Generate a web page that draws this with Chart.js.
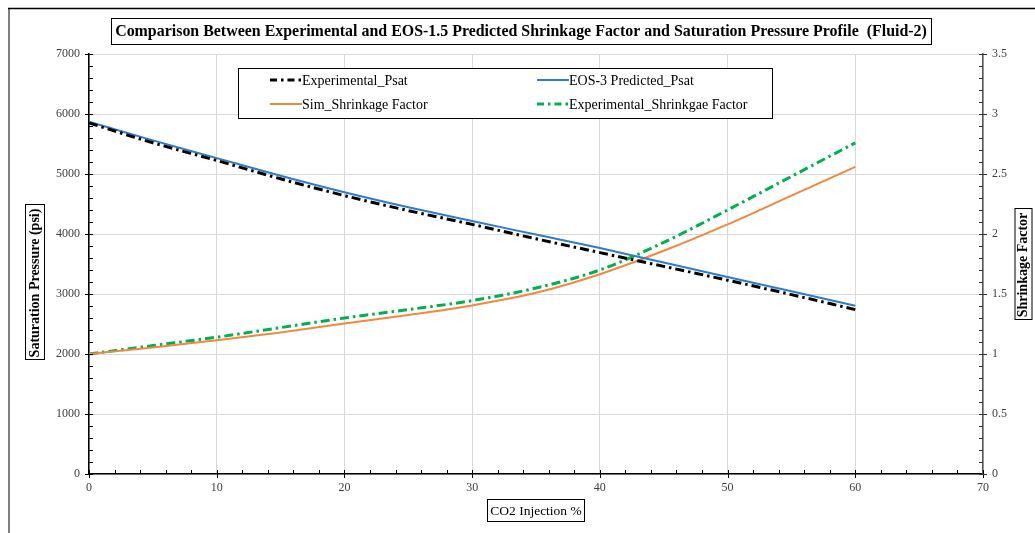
<!DOCTYPE html>
<html><head><meta charset="utf-8">
<script src="https://cdn.jsdelivr.net/npm/chart.js@4"></script>
<style>html,body{margin:0;padding:0;background:#fff;overflow:hidden}#wrap{width:1035px;height:533px;position:relative}</style>
</head><body><div id="wrap"><canvas id="c" width="1035" height="533"></canvas></div>
<script>
const co2Injection = [0, 5, 10, 15, 20, 25, 30, 35, 40, 45, 50, 55, 60];
const experimentalPsat = [5850, 5520, 5225, 4920, 4640, 4390, 4160, 3920, 3690, 3460, 3230, 2990, 2740];
const eosPredictedPsat = [5870, 5560, 5265, 4970, 4695, 4445, 4215, 3990, 3765, 3525, 3285, 3045, 2805];
const simShrinkage = [1.00, 1.055, 1.115, 1.18, 1.255, 1.325, 1.405, 1.51, 1.665, 1.86, 2.08, 2.32, 2.56];
const expShrinkage = [1.00, 1.07, 1.14, 1.22, 1.30, 1.37, 1.445, 1.55, 1.70, 1.93, 2.20, 2.48, 2.76];
const xTickValues = [0, 10, 20, 30, 40, 50, 60, 70];
const psatTickValues = [0, 1000, 2000, 3000, 4000, 5000, 6000, 7000];
const sfTickValues = [0, 0.5, 1, 1.5, 2, 2.5, 3, 3.5];
const seriesNames = ['Experimental_Psat', 'EOS-3 Predicted_Psat', 'Sim_Shrinkage Factor', 'Experimental_Shrinkgae Factor'];
const chartTitle = 'Comparison Between Experimental and EOS-1.5 Predicted Shrinkage Factor and Saturation Pressure Profile  (Fluid-2)';
const xTitle = 'CO2 Injection %';
const yLeftTitle = 'Saturation Pressure (psi)';
const yRightTitle = 'Shrinkage Factor';

const COLORS = { black: '#000000', blue: '#2E7DC8', orange: '#F0883E', green: '#00B050' };
const SERIF = "'Liberation Serif', 'DejaVu Serif', serif";
const pts = (ys) => co2Injection.map((x, i) => ({ x: x, y: ys[i] }));
const DASHDOT = [9, 4, 2.5, 4];

const datasets = [
  { label: seriesNames[0], data: pts(experimentalPsat), yAxisID: 'y', borderColor: COLORS.black, borderWidth: 3, borderDash: DASHDOT, cubicInterpolationMode: 'monotone', pointRadius: 0, fill: false },
  { label: seriesNames[1], data: pts(eosPredictedPsat), yAxisID: 'y', borderColor: COLORS.blue, borderWidth: 2, cubicInterpolationMode: 'monotone', pointRadius: 0, fill: false },
  { label: seriesNames[2], data: pts(simShrinkage), yAxisID: 'y2', borderColor: COLORS.orange, borderWidth: 2, cubicInterpolationMode: 'monotone', pointRadius: 0, fill: false },
  { label: seriesNames[3], data: pts(expShrinkage), yAxisID: 'y2', borderColor: COLORS.green, borderWidth: 3, borderDash: DASHDOT, cubicInterpolationMode: 'monotone', pointRadius: 0, fill: false }
];

function boxText(ctx, text, cx, cy, font, rotate, padX, padY) {
  ctx.save();
  ctx.translate(cx, cy);
  if (rotate) ctx.rotate(-Math.PI / 2);
  ctx.font = font;
  const w = ctx.measureText(text).width;
  ctx.fillStyle = '#000';
  ctx.textAlign = 'center';
  ctx.textBaseline = 'middle';
  ctx.fillText(text, 0, 1);
  ctx.strokeStyle = '#000';
  ctx.lineWidth = 1;
  ctx.strokeRect(Math.round(-w / 2 - padX) + 0.5, Math.round(-padY) + 0.5, Math.round(w + 2 * padX), Math.round(2 * padY));
  ctx.restore();
}

const decor = {
  id: 'decor',
  beforeDraw(chart) {
    const ctx = chart.ctx;
    ctx.save();
    ctx.fillStyle = '#fff';
    ctx.fillRect(0, 0, chart.width, chart.height);
    ctx.strokeStyle = '#7f7f7f';
    ctx.lineWidth = 2;
    ctx.beginPath(); ctx.moveTo(9, 8); ctx.lineTo(9, chart.height); ctx.stroke();
    ctx.strokeStyle = '#000';
    ctx.lineWidth = 1.5;
    ctx.beginPath(); ctx.moveTo(8, 8.5); ctx.lineTo(chart.width, 8.5); ctx.stroke();
    ctx.restore();
  },
  afterDraw(chart) {
    const ctx = chart.ctx;
    const xs = chart.scales.x, yl = chart.scales.y, yr = chart.scales.y2;
    const a = chart.chartArea;
    ctx.save();
    ctx.strokeStyle = '#000';
    ctx.lineWidth = 1;
    for (let v = 0; v <= 70; v += 2) {
      const px = Math.round(xs.getPixelForValue(v)) + 0.5;
      const major = v % 10 === 0;
      ctx.beginPath();
      ctx.moveTo(px, a.bottom - 4);
      ctx.lineTo(px, a.bottom + (major ? 4 : 0));
      ctx.stroke();
    }
    for (let v = 0; v <= 7000; v += 200) {
      const py = Math.round(yl.getPixelForValue(v)) + 0.5;
      const major = v % 1000 === 0;
      ctx.beginPath();
      ctx.moveTo(a.left - (major ? 4 : 0), py);
      ctx.lineTo(a.left + 4, py);
      ctx.stroke();
    }
    ctx.strokeStyle = '#333';
    for (let i = 0; i <= 35; i++) {
      const v = i / 10;
      const py = Math.round(yr.getPixelForValue(v)) + 0.5;
      const major = i % 5 === 0;
      ctx.beginPath();
      ctx.moveTo(a.right - 4, py);
      ctx.lineTo(a.right + (major ? 4 : 0), py);
      ctx.stroke();
    }
    ctx.restore();

    ctx.save();
    let fs = 17;
    ctx.font = 'bold ' + fs + 'px ' + SERIF;
    const target = 812;
    fs = fs * target / ctx.measureText(chartTitle).width;
    ctx.restore();
    boxText(ctx, chartTitle, 521, 31, 'bold ' + fs.toFixed(2) + 'px ' + SERIF, false, 4, 13);

    boxText(ctx, yLeftTitle, 34, 283, 'bold 14px ' + SERIF, true, 3, 9.5);
    boxText(ctx, yRightTitle, 1022.5, 265, 'bold 14px ' + SERIF, true, 3, 8.5);
    boxText(ctx, xTitle, 536, 510, '13.5px ' + SERIF, false, 3, 11);

    ctx.save();
    ctx.fillStyle = '#fff';
    ctx.fillRect(238, 68, 534, 50);
    ctx.strokeStyle = '#000';
    ctx.lineWidth = 1;
    ctx.strokeRect(238.5, 68.5, 534, 50);
    const items = [
      { ds: 0, x: 270, y: 80 },
      { ds: 1, x: 537, y: 80 },
      { ds: 2, x: 270, y: 104 },
      { ds: 3, x: 537, y: 104 }
    ];
    ctx.font = '14px ' + SERIF;
    ctx.textBaseline = 'middle';
    ctx.textAlign = 'left';
    items.forEach(it => {
      const d = datasets[it.ds];
      ctx.save();
      ctx.strokeStyle = d.borderColor;
      ctx.lineWidth = d.borderWidth;
      ctx.setLineDash(d.borderDash ? [7, 4, 2.5, 4] : []);
      ctx.beginPath();
      ctx.moveTo(it.x, it.y);
      ctx.lineTo(it.x + 32, it.y);
      ctx.stroke();
      ctx.restore();
      ctx.fillStyle = '#000';
      ctx.fillText(d.label, it.x + 32, it.y + 1);
    });
    ctx.restore();
  }
};

const tickFont = { family: SERIF, size: 12 };
const plain = v => String(v);
new Chart(document.getElementById('c'), {
  type: 'line',
  data: { datasets: datasets },
  options: {
    responsive: false,
    animation: false,
    devicePixelRatio: 1,
    layout: { padding: { top: 54, left: 0, right: 0, bottom: 0 } },
    plugins: { legend: { display: false }, title: { display: false }, tooltip: { enabled: false } },
    scales: {
      x: {
        type: 'linear', min: 0, max: 70,
        afterBuildTicks: s => { s.ticks = xTickValues.map(v => ({ value: v })); },
        afterFit: s => { s.height = 59; },
        ticks: { font: tickFont, color: '#404040', padding: 7, callback: plain },
        grid: { color: '#d9d9d9', drawTicks: false, lineWidth: 1 },
        border: { display: true, color: '#000', width: 1.5 }
      },
      y: {
        position: 'left', min: 0, max: 7000,
        afterBuildTicks: s => { s.ticks = psatTickValues.map(v => ({ value: v })); },
        afterFit: s => { s.width = 89; },
        ticks: { font: tickFont, color: '#404040', padding: 9, callback: plain },
        grid: { color: '#d9d9d9', drawTicks: false, lineWidth: 1 },
        border: { display: true, color: '#000', width: 1.5 }
      },
      y2: {
        position: 'right', min: 0, max: 3.5,
        afterBuildTicks: s => { s.ticks = sfTickValues.map(v => ({ value: v })); },
        afterFit: s => { s.width = 52; },
        ticks: { font: tickFont, color: '#404040', padding: 9, callback: plain },
        grid: { drawOnChartArea: false, drawTicks: false },
        border: { display: true, color: '#555', width: 1.5 }
      }
    }
  },
  plugins: [decor]
});
</script></body></html>
